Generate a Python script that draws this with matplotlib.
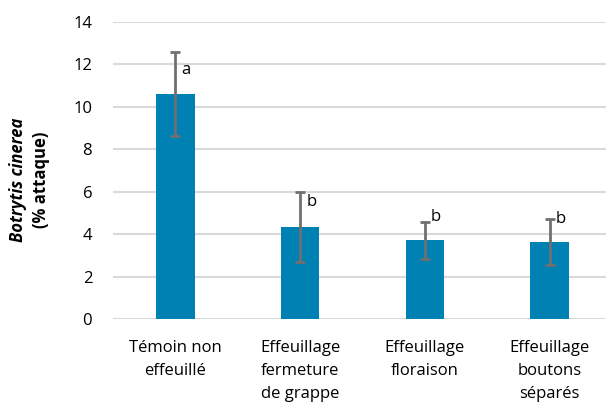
import numpy as np
import matplotlib
matplotlib.use('Agg')
from matplotlib import pyplot as plt

categories = ['Témoin non\neffeuillé', 'Effeuillage\nfermeture\nde grappe',
              'Effeuillage\nfloraison', 'Effeuillage\nboutons\nséparés']
values = [10.6, 4.35, 3.72, 3.62]
errors = [1.98, 1.65, 0.87, 1.08]
letters = ['a', 'b', 'b', 'b']
letter_y = [11.75, 5.5, 4.8, 4.7]

plt.rcParams['font.family'] = ['Open Sans', 'DejaVu Sans']

fig = plt.figure(figsize=(6.06, 4.03), dpi=100)
ax = fig.add_axes([113 / 606, (403 - 319) / 403, 499 / 606, 297 / 403])

x = np.arange(len(categories))
ax.bar(x, values, width=0.31, color='#0081B4', zorder=2)
ax.errorbar(x, values, yerr=errors, fmt='none', ecolor='#707070',
            elinewidth=2, capsize=3.5, capthick=2, zorder=3)

for i, (lab, ly) in enumerate(zip(letters, letter_y)):
  ax.text(i + 0.05, ly, lab, fontsize=12, va='center', ha='left', color='black')

ax.set_xlim(-0.5, 3.5)
ax.set_ylim(0, 14)
ax.set_yticks(range(0, 15, 2))
ax.set_xticks(x)
ax.set_xticklabels(categories, fontsize=12, linespacing=1.6)
ax.tick_params(axis='y', labelsize=12, length=0, pad=15)
ax.tick_params(axis='x', length=0, pad=15)
ax.grid(axis='y', color='#D9D9D9', linewidth=1.5, zorder=0)
for s in ax.spines.values():
  s.set_visible(False)

fig.text(18 / 606, 1 - 180 / 403, 'Botrytis cinerea', rotation=90, ha='center', va='center',
         fontsize=12, fontstyle='italic', fontweight='bold')
fig.text(41 / 606, 1 - 180 / 403, '(% attaque)', rotation=90, ha='center', va='center',
         fontsize=12, fontweight='bold')

fig.savefig('out.png', dpi=100)
